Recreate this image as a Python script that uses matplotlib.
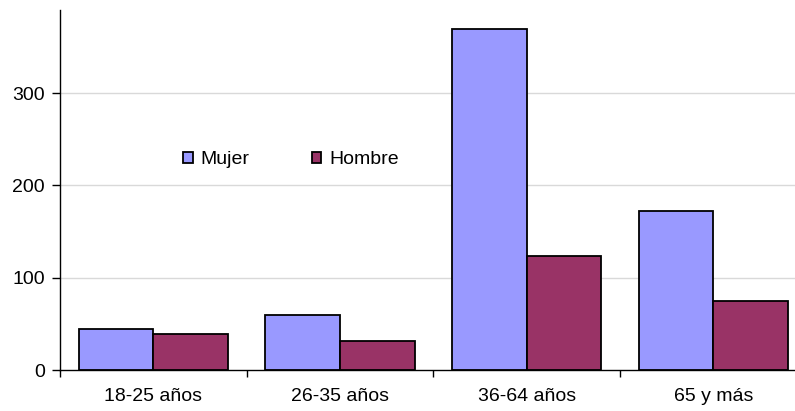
import numpy as np
import matplotlib

matplotlib.use("Agg")
import matplotlib.pyplot as plt
from matplotlib.patches import Patch

groups = ["18-25 años", "26-35 años", "36-64 años", "65 y más"]
mujer = [44, 60, 369, 172]
hombre = [39, 31, 123, 75]

plt.rcParams["font.family"] = ["Liberation Sans", "DejaVu Sans"]
plt.rcParams["font.size"] = 14

fig = plt.figure(figsize=(7.95, 4.11), dpi=100)
ax = fig.add_axes([60 / 795, 41 / 411, 735 / 795, 360 / 411])

x = np.arange(len(groups))
width = 0.4
ax.bar(x - width / 2, mujer, width, color="#9999FF", edgecolor="black", linewidth=1.3, zorder=3)
ax.bar(x + width / 2, hombre, width, color="#993366", edgecolor="black", linewidth=1.3, zorder=3)

ax.set_yticks([0, 100, 200, 300])
for yv in [100, 200, 300]:
    ax.axhline(yv, color="#d9d9d9", linewidth=1, zorder=1)

ax.set_xticks(x)
ax.set_xticklabels(groups)
ax.set_xticks(np.arange(-0.5, len(groups) - 0.5, 1), minor=True)
ax.tick_params(axis="x", which="major", length=0, pad=13)
ax.tick_params(axis="x", which="minor", length=5, width=1, direction="out")
ax.tick_params(axis="y", length=6, width=1, direction="out", pad=5)

# right edge of the plot area falls short of the last category boundary
ax.set_xlim(-0.5, -0.5 + 735 / 186.7)
ax.set_ylim(0, 390)

for side in ["top", "right"]:
    ax.spines[side].set_visible(False)
for side in ["left", "bottom"]:
    ax.spines[side].set_color("black")
    ax.spines[side].set_linewidth(1)
    ax.spines[side].set_zorder(4)

handles = [
    Patch(facecolor="#9999FF", edgecolor="black", linewidth=1.3, label="Mujer"),
    Patch(facecolor="#993366", edgecolor="black", linewidth=1.3, label="Hombre"),
]
ax.legend(
    handles=handles,
    loc="center",
    bbox_to_anchor=(0.314, 0.584),
    ncol=2,
    frameon=False,
    handlelength=0.5,
    handleheight=0.5,
    handletextpad=0.4,
    columnspacing=3.2,
    fontsize=14,
)

fig.savefig("out.png", dpi=100)
